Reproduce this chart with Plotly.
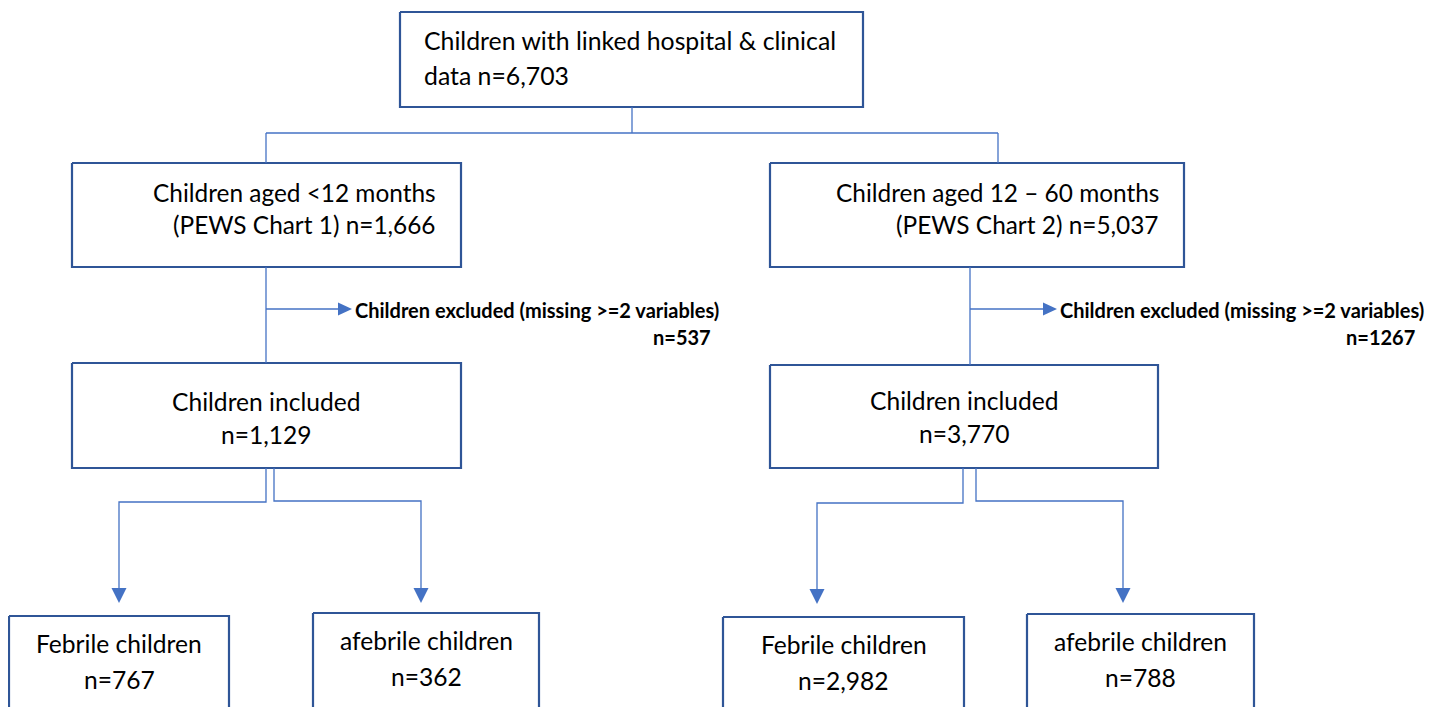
import plotly.graph_objects as go

# ---------------- data ----------------
top_label = ["Children with linked hospital & clinical", "data"]
top_count = 6703

age_groups = ["Children aged <12 months", "Children aged 12 \u2013 60 months"]
pews_charts = ["(PEWS Chart 1)", "(PEWS Chart 2)"]
group_counts = [1666, 5037]

excluded_label = "Children excluded (missing >=2 variables)"
excluded_counts = [537, 1267]

included_label = "Children included"
included_counts = [1129, 3770]

outcome_labels = ["Febrile children", "afebrile children", "Febrile children", "afebrile children"]
outcome_counts = [767, 362, 2982, 788]

# ---------------- layout geometry (pixels) ----------------
W, H = 1442, 707
OFF = 8  # page body margin
BOX_C = "#2F5597"
LINE_C = "#4472C4"
FONT = "Lato"
FS = 24.6

boxes = {
    "top": (400, 12, 863, 107),
    "g0": (72, 163, 461, 267),
    "g1": (770, 163, 1184, 267),
    "i0": (72, 363, 461, 468),
    "i1": (770, 365, 1158, 468),
    "o0": (9, 616, 229, 760),
    "o1": (313, 613, 539, 760),
    "o2": (723, 617, 964, 760),
    "o3": (1027, 614, 1254, 760),
}

fig = go.Figure()

def add_line(xs, ys, width=1.3, color=LINE_C):
    fig.add_trace(go.Scatter(x=xs, y=ys, mode="lines", line=dict(color=color, width=width),
                             hoverinfo="skip", showlegend=False))

for key, (x0, y0, x1, y1) in boxes.items():
    add_line([x0, x1, x1, x0, x0], [y0, y0, y1, y1, y0], width=2.2, color=BOX_C)

# connectors
add_line([632, 632], [107, 133])
add_line([266, 998], [133, 133])
add_line([266, 266], [133, 163])
add_line([998, 998], [133, 163])

add_line([266, 266], [267, 363])
add_line([266, 338], [309, 309])
add_line([970, 970], [267, 365])
add_line([970, 1043], [309, 309])

add_line([266, 266, 119, 119], [468, 502, 502, 589])
add_line([274, 274, 421, 421], [468, 501, 501, 589])
add_line([963, 963, 817, 817], [468, 503, 503, 590])
add_line([976, 976, 1123, 1123], [468, 501, 501, 589])

shapes = []
def arrow_down(x, tip, w=15, h=15):
    shapes.append(dict(type="path", xref="x", yref="y",
                       path=f"M{x-w/2},{tip-h} L{x+w/2},{tip-h} L{x},{tip} Z",
                       fillcolor=LINE_C, line=dict(width=0)))

def arrow_right(tip, y, w=14, h=13):
    shapes.append(dict(type="path", xref="x", yref="y",
                       path=f"M{tip-w},{y-h/2} L{tip-w},{y+h/2} L{tip},{y} Z",
                       fillcolor=LINE_C, line=dict(width=0)))

arrow_right(352, 309)
arrow_right(1057, 309)
arrow_down(119, 603)
arrow_down(421, 603)
arrow_down(817, 604)
arrow_down(1123, 603)

annotations = []
def txt(x, y, s, anchor="center", size=FS, bold=False):
    annotations.append(dict(x=x, y=y, xref="x", yref="y", text=(f"<b>{s}</b>" if bold else s),
                            showarrow=False, xanchor=anchor, yanchor="middle",
                            font=dict(family=FONT, size=size, color="#000000")))

# top box
txt(422, 40, top_label[0], "left", size=24.8)
txt(422, 75, f"{top_label[1]} n={top_count:,}", "left", size=24.8)

# age groups (right aligned)
txt(438, 192, age_groups[0], "right", size=24.4)
txt(438, 224, f"{pews_charts[0]} n={group_counts[0]:,}", "right", size=24.4)
txt(1161, 192, age_groups[1], "right", size=24.4)
txt(1161, 224, f"{pews_charts[1]} n={group_counts[1]:,}", "right", size=24.4)

# exclusions
txt(353, 310, excluded_label, "left", size=20, bold=True)
txt(713, 337, f"n={excluded_counts[0]}", "right", size=20, bold=True)
txt(1058, 310, excluded_label, "left", size=20, bold=True)
txt(1417, 337, f"n={excluded_counts[1]}", "right", size=20, bold=True)

# included
txt(266, 401, included_label)
txt(266, 434, f"n={included_counts[0]:,}")
txt(964, 400, included_label)
txt(964, 433, f"n={included_counts[1]:,}")

# outcomes
out_boxes = ["o0", "o1", "o2", "o3"]
for i, k in enumerate(out_boxes):
    x0, y0, x1, y1 = boxes[k]
    cx = (x0 + x1) / 2
    ty = y0 + 27
    txt(cx, ty, outcome_labels[i])
    txt(cx, ty + 36, f"n={outcome_counts[i]:,}")

fig.update_layout(
    width=W, height=H,
    margin=dict(l=0, r=0, t=0, b=0),
    paper_bgcolor="white", plot_bgcolor="white",
    xaxis=dict(range=[OFF, W + OFF], visible=False, fixedrange=True),
    yaxis=dict(range=[H + OFF, OFF], visible=False, fixedrange=True),
    shapes=shapes, annotations=annotations, showlegend=False,
)

fig.write_html("out.html")
